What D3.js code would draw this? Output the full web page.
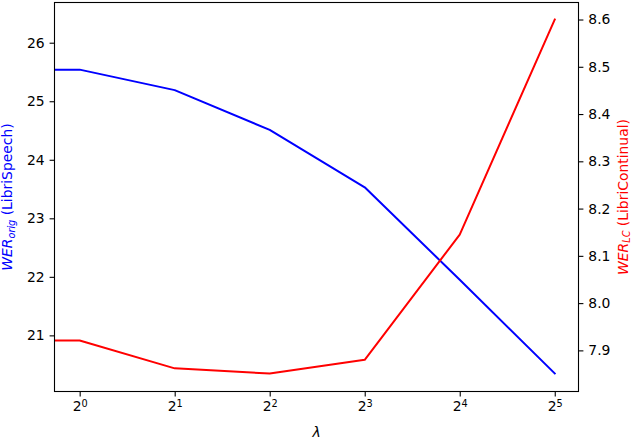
<!DOCTYPE html>
<html>
<head>
<meta charset="utf-8">
<script src="https://cdn.jsdelivr.net/npm/d3@7"></script>
<style>
  html, body { margin: 0; padding: 0; background: #fff; }
  svg { display: block; font-family: "DejaVu Sans", sans-serif; }
</style>
</head>
<body>
<svg id="chart" width="632" height="440"></svg>
<script>
// ---- data ----
const lambdas = [0.5, 1, 2, 4, 8, 16, 32];
const werOrig = [25.54, 25.54, 25.19, 24.51, 23.53, 21.95, 20.35];
const werLC   = [7.921, 7.921, 7.862, 7.851, 7.880, 8.145, 8.600];
const xTickValues = [1, 2, 4, 8, 16, 32];
const xTickExponents = ["0", "1", "2", "3", "4", "5"];
const leftTicks = [21, 22, 23, 24, 25, 26];
const rightTicks = [7.9, 8.0, 8.1, 8.2, 8.3, 8.4, 8.5, 8.6];

// ---- layout ----
const W = 632, H = 440;
const L = 54.5, R = 578.5, T = 2.5, B = 391.5;
const FS = 13.9;

const svg = d3.select("#chart");

const x = d3.scaleLog().base(2)
  .domain([Math.pow(2, -0.265), Math.pow(2, 5.25)])
  .range([L, R]);
const yL = d3.scaleLinear().domain([20.041, 26.687]).range([B, T]);
const yR = d3.scaleLinear().domain([7.813, 8.636]).range([B, T]);

// clip
svg.append("defs").append("clipPath").attr("id", "clip")
  .append("rect").attr("x", L).attr("y", T).attr("width", R - L).attr("height", B - T);

const g = svg.append("g").attr("clip-path", "url(#clip)");

const lineL = d3.line().x((d, i) => x(lambdas[i])).y(d => yL(d));
const lineR = d3.line().x((d, i) => x(lambdas[i])).y(d => yR(d));

g.append("path").datum(werOrig).attr("d", lineL)
  .attr("fill", "none").attr("stroke", "#0000ff").attr("stroke-width", 2)
  .attr("stroke-linejoin", "round").attr("stroke-linecap", "square");
g.append("path").datum(werLC).attr("d", lineR)
  .attr("fill", "none").attr("stroke", "#ff0000").attr("stroke-width", 2)
  .attr("stroke-linejoin", "round").attr("stroke-linecap", "square");

// axes
function styleAxis(sel) {
  sel.select(".domain").remove();
  sel.selectAll(".tick line").attr("stroke", "#000").attr("stroke-width", 1.1);
  sel.selectAll(".tick text").attr("fill", "#000")
    .style("font-family", "DejaVu Sans").style("font-size", FS + "px");
}

const ax = svg.append("g").attr("transform", `translate(0,${B})`)
  .call(d3.axisBottom(x).tickValues(xTickValues).tickSize(4.9).tickPadding(4.9).tickFormat(() => ""));
styleAxis(ax);
ax.selectAll(".tick text").each(function(d, i) {
  const t = d3.select(this).attr("dy", "0.71em").attr("text-anchor", "middle");
  t.text(null);
  t.append("tspan").text("2");
  t.append("tspan").attr("font-size", (FS * 0.7) + "px").attr("dy", "-0.45em").text(xTickExponents[i]);
});

const ayL = svg.append("g").attr("transform", `translate(${L},0)`)
  .call(d3.axisLeft(yL).tickValues(leftTicks).tickSize(4.9).tickPadding(4.9).tickFormat(d3.format("d")));
styleAxis(ayL);

const ayR = svg.append("g").attr("transform", `translate(${R},0)`)
  .call(d3.axisRight(yR).tickValues(rightTicks).tickSize(4.9).tickPadding(4.9).tickFormat(d3.format(".1f")));
styleAxis(ayR);

// frame
svg.append("rect").attr("x", L).attr("y", T).attr("width", R - L).attr("height", B - T)
  .attr("fill", "none").attr("stroke", "#000").attr("stroke-width", 1.1);

// x label
svg.append("text").attr("x", (L + R) / 2).attr("y", 437)
  .attr("text-anchor", "middle").attr("font-style", "italic")
  .style("font-size", FS + "px").text("λ");

// left y label
const ltl = svg.append("text")
  .attr("transform", `translate(12,${(T + B) / 2}) rotate(-90)`)
  .attr("text-anchor", "middle").attr("fill", "#0000ff").style("font-size", FS + "px");
ltl.append("tspan").attr("font-style", "italic").text("WER");
ltl.append("tspan").attr("font-style", "italic").attr("font-size", (FS * 0.7) + "px").attr("dy", 3).text("orig");
ltl.append("tspan").attr("dy", -3).text(" (LibriSpeech)");

// right y label
const rtl = svg.append("text")
  .attr("transform", `translate(627.5,${(T + B) / 2}) rotate(-90)`)
  .attr("text-anchor", "middle").attr("fill", "#ff0000").style("font-size", FS + "px");
rtl.append("tspan").attr("font-style", "italic").text("WER");
rtl.append("tspan").attr("font-style", "italic").attr("font-size", (FS * 0.7) + "px").attr("dy", 2.5).text("LC");
rtl.append("tspan").attr("dy", -2.5).text(" (LibriContinual)");
</script>
</body>
</html>
